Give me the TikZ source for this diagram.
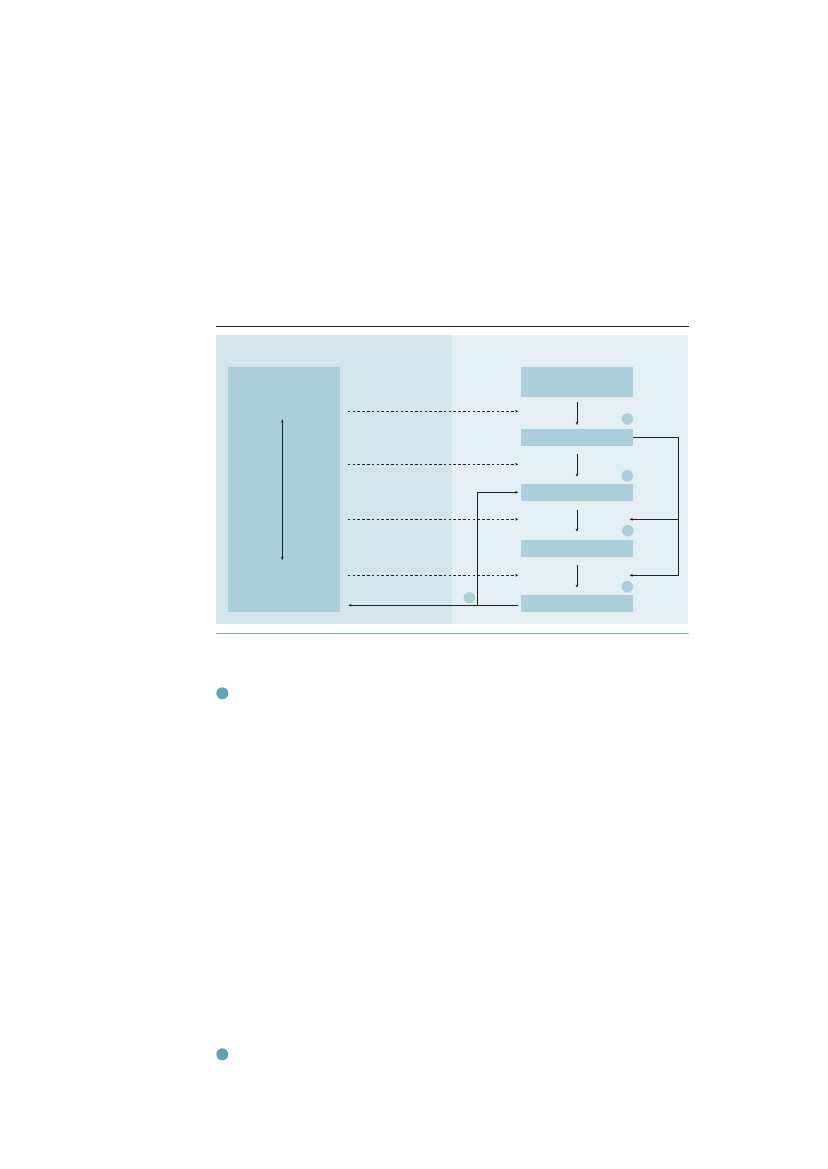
\documentclass[tikz,border=0pt]{standalone}
\usetikzlibrary{arrows.meta}
\definecolor{panelL}{RGB}{212,230,237}
\definecolor{panelR}{RGB}{228,239,244}
\definecolor{boxc}{RGB}{171,207,219}
\definecolor{rulec}{RGB}{120,175,192}
\definecolor{bullc}{RGB}{95,163,186}
\definecolor{linec}{RGB}{30,30,30}
\tikzset{
  blockbox/.style={fill=boxc, draw=none, inner sep=0pt, minimum width=112pt},
  panel/.style={draw=none, inner sep=0pt},
  dotmark/.style={circle, fill=boxc, draw=none, inner sep=0pt, minimum size=11.5pt},
  bullet/.style={circle, fill=bullc, draw=none, inner sep=0pt, minimum size=12pt},
  conn/.style={draw=linec, line width=0.7pt, -{Stealth[length=3.2pt,width=2.6pt]}},
  plainconn/.style={draw=linec, line width=0.7pt},
  dashconn/.style={conn, dash pattern=on 2.6pt off 2.2pt},
}
\begin{document}
\begin{tikzpicture}[x=1pt,y=-1pt]
\useasboundingbox (0,0) rectangle (827,1169);
% rules
\coordinate (tl) at (216,326.3);
\coordinate (tr) at (689,326.3);
\coordinate (bl) at (216,633.3);
\coordinate (br) at (689,633.3);
\draw[line width=0.8pt, draw=linec] (tl) -- (tr);
\draw[line width=0.8pt, draw=rulec] (bl) -- (br);
% panels
\node[panel, fill=panelL, minimum width=236pt, minimum height=289.5pt] (pl) at (334,479.7) {};
\node[panel, fill=panelR, minimum width=236pt, minimum height=289.5pt] (pr) at (570,479.7) {};
% big left box
\node[blockbox, minimum width=112pt, minimum height=245pt] (big) at (284,489.8) {};
% right boxes
\node[blockbox, minimum height=30.5pt] (b1) at (577,382.2) {};
\node[blockbox, minimum height=17pt] (b2) at (577,437.6) {};
\node[blockbox, minimum height=17pt] (b3) at (577,492.8) {};
\node[blockbox, minimum height=17pt] (b4) at (577,548.3) {};
\node[blockbox, minimum height=17pt] (b5) at (577,603.7) {};
% double arrow in big box
\coordinate (da1) at (282.3,419.3);
\coordinate (da2) at (282.3,560);
\draw[conn, {Stealth[length=3.2pt,width=2.6pt]}-{Stealth[length=3.2pt,width=2.6pt]}] (da1) -- (da2);
% down arrows
\draw[conn, shorten <=4.8pt, shorten >=4pt] (b1.south) -- (b2.north);
\draw[conn, shorten <=8pt, shorten >=7.3pt] (b2.south) -- (b3.north);
\draw[conn, shorten <=8pt, shorten >=8pt] (b3.south) -- (b4.north);
\draw[conn, shorten <=8pt, shorten >=7.3pt] (b4.south) -- (b5.north);
% dotted marks
\node[dotmark] (m1) at (627.3,419) {};
\node[dotmark] (m2) at (627.3,475.7) {};
\node[dotmark] (m3) at (627.8,530.7) {};
\node[dotmark] (m4) at (627.3,586.7) {};
\node[dotmark] (m5) at (469.3,597.7) {};
% dashed arrows
\foreach \i/\yy in {1/411.3, 2/464.3, 3/519.3, 4/575.3}{
  \coordinate (ds\i) at (347.7,\yy);
  \coordinate (de\i) at (518.3,\yy);
  \draw[dashconn] (ds\i) -- (de\i);
}
% feedback on the right
\coordinate (fr1) at (678.7,437.6);
\coordinate (fr2) at (678.7,519.3);
\coordinate (fr3) at (678.7,575.3);
\coordinate (fa3) at (629.5,519.3);
\coordinate (fa4) at (629.5,575.3);
\draw[plainconn] (b2.east) -- (fr1) -- (fr3);
\draw[conn] (fr2) -- (fa3);
\draw[conn] (fr3) -- (fa4);
% bottom return line
\coordinate (r0) at (518.3,605.3);
\coordinate (rj) at (477.3,605.3);
\coordinate (rend) at (348.3,605.3);
\coordinate (ru) at (477.3,492.3);
\coordinate (rr) at (518.3,492.3);
\draw[conn] (r0) -- (rend);
\draw[conn] (rj) -- (ru) -- (rr);
% bullets below
\node[bullet] (bu1) at (222.3,693.3) {};
\node[bullet] (bu2) at (222.3,1054.3) {};
\end{tikzpicture}
\end{document}
